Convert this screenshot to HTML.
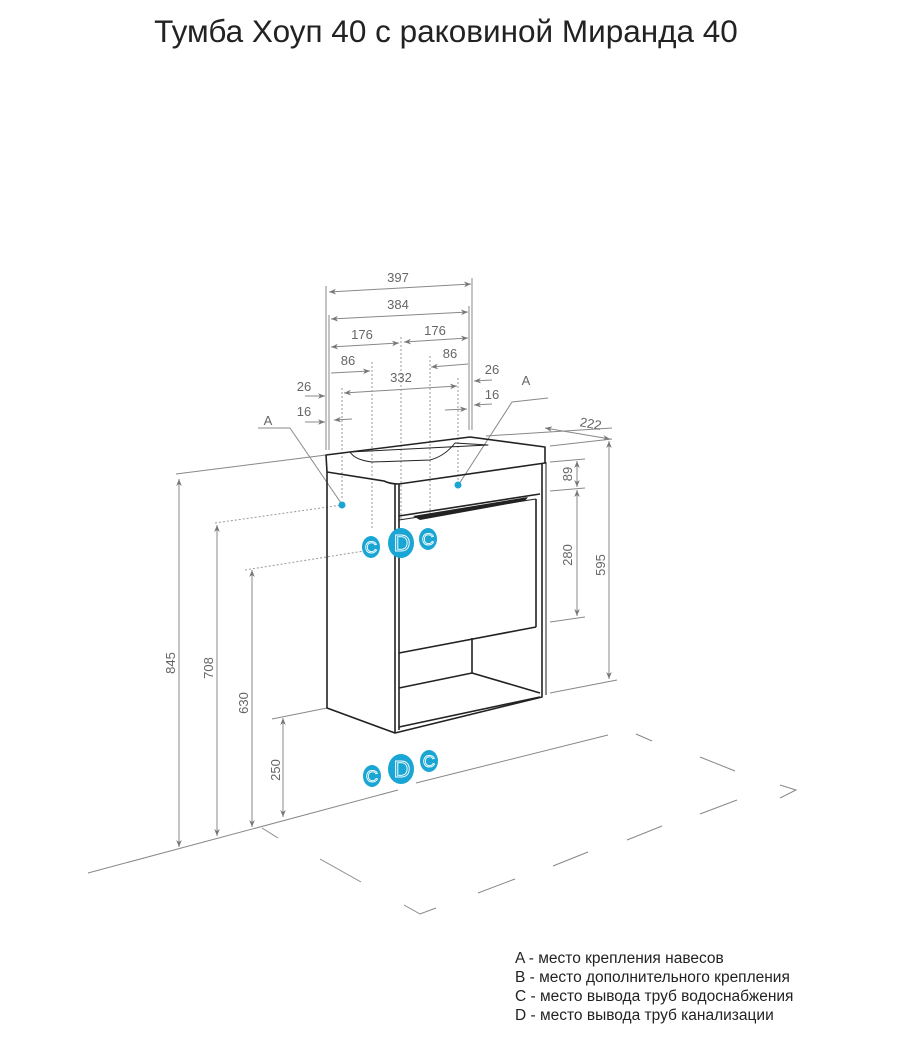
<!DOCTYPE html>
<html><head><meta charset="utf-8"><style>
body{margin:0;background:#fff;}
svg{display:block;font-family:"Liberation Sans",sans-serif;}
</style></head><body>
<svg width="900" height="1053" viewBox="0 0 900 1053" xmlns="http://www.w3.org/2000/svg">
<defs>
<marker id="a" viewBox="0 0 10 10" refX="10" refY="5" markerWidth="9" markerHeight="7" orient="auto-start-reverse" markerUnits="userSpaceOnUse"><path d="M0,1 L10,5 L0,9 L3,5Z" fill="#777"/></marker>
</defs>
<text x="446" y="42" font-size="31.5" text-anchor="middle" fill="#222">Тумба Хоуп 40 с раковиной Миранда 40</text>

<g stroke="#888" stroke-width="1" fill="none">
<line x1="326" y1="286" x2="326" y2="450"/><line x1="329" y1="315" x2="329" y2="450"/>
<line x1="472" y1="278" x2="472" y2="430"/><line x1="469" y1="306" x2="469" y2="430"/>
<line x1="329" y1="292" x2="471" y2="284" marker-start="url(#a)" marker-end="url(#a)"/>
<line x1="331" y1="319" x2="468" y2="312" marker-start="url(#a)" marker-end="url(#a)"/>
<line x1="331" y1="347" x2="399" y2="343" marker-start="url(#a)" marker-end="url(#a)"/>
<line x1="404" y1="342" x2="468" y2="338" marker-start="url(#a)" marker-end="url(#a)"/>
<line x1="331" y1="373" x2="370" y2="371" marker-end="url(#a)"/>
<line x1="431" y1="367" x2="468" y2="364" marker-start="url(#a)"/>
<line x1="344" y1="393" x2="457" y2="386" marker-start="url(#a)" marker-end="url(#a)"/>
<line x1="305" y1="396" x2="325" y2="396" marker-end="url(#a)"/>
<line x1="305" y1="422" x2="325" y2="422" marker-end="url(#a)"/>
<line x1="352" y1="419" x2="334" y2="420" marker-end="url(#a)"/>
<line x1="492" y1="380" x2="474" y2="381" marker-end="url(#a)"/>
<line x1="492" y1="404" x2="474" y2="405" marker-end="url(#a)"/>
<line x1="445" y1="410" x2="467" y2="409" marker-end="url(#a)"/>
<line x1="486" y1="436" x2="612" y2="428"/>
<line x1="545" y1="428" x2="610" y2="439" marker-start="url(#a)" marker-end="url(#a)"/>
<line x1="550" y1="446" x2="612" y2="439"/>
<line x1="550" y1="462" x2="585" y2="459"/>
<line x1="550" y1="491" x2="585" y2="488"/>
<line x1="550" y1="622" x2="585" y2="617"/>
<line x1="550" y1="693" x2="617" y2="680"/>
<line x1="577" y1="461" x2="577" y2="487" marker-start="url(#a)" marker-end="url(#a)"/>
<line x1="577" y1="490" x2="577" y2="616" marker-start="url(#a)" marker-end="url(#a)"/>
<line x1="609" y1="441" x2="609" y2="679" marker-start="url(#a)" marker-end="url(#a)"/>
<line x1="176" y1="474" x2="326" y2="455"/>
<line x1="272" y1="719" x2="327" y2="708"/>
<line x1="179" y1="479" x2="179" y2="847" marker-start="url(#a)" marker-end="url(#a)"/>
<line x1="217" y1="525" x2="217" y2="836" marker-start="url(#a)" marker-end="url(#a)"/>
<line x1="252" y1="570" x2="252" y2="827" marker-start="url(#a)" marker-end="url(#a)"/>
<line x1="283" y1="718" x2="283" y2="817" marker-start="url(#a)" marker-end="url(#a)"/>
<line x1="258" y1="428" x2="290" y2="428"/><line x1="290" y1="428" x2="341" y2="503"/>
<line x1="548" y1="398" x2="512" y2="402"/><line x1="512" y1="402" x2="459" y2="484"/>
<line x1="88" y1="873" x2="398" y2="790"/>
<line x1="416" y1="783" x2="608" y2="735"/>
<line x1="262" y1="828" x2="278" y2="838"/>
<line x1="636" y1="734" x2="652" y2="741"/>
<line x1="700" y1="757" x2="735" y2="771"/>
<polyline points="780,785 796,790 780,798"/>
<line x1="320" y1="859" x2="361" y2="882"/>
<polyline points="404,905 420,914 436,908"/>
<line x1="478" y1="893" x2="515" y2="879"/>
<line x1="553" y1="866" x2="588" y2="852"/>
<line x1="627" y1="840" x2="662" y2="826"/>
<line x1="700" y1="814" x2="737" y2="800"/>
</g>
<g stroke="#999" stroke-width="1" stroke-dasharray="2,2" fill="none">
<line x1="401" y1="337" x2="401" y2="520"/>
<line x1="372" y1="362" x2="372" y2="530"/>
<line x1="430" y1="356" x2="430" y2="520"/>
<line x1="342" y1="388" x2="342" y2="500"/>
<line x1="458" y1="378" x2="458" y2="480"/>
<line x1="215" y1="523" x2="342" y2="505"/>
<line x1="245" y1="570" x2="364" y2="551"/>
</g>
<g font-size="13" fill="#666" text-anchor="middle">
<text x="398" y="282">397</text><text x="398" y="309">384</text>
<text x="362" y="339">176</text><text x="435" y="335">176</text>
<text x="348" y="365">86</text><text x="450" y="358">86</text>
<text x="401" y="382">332</text>
<text x="304" y="391">26</text><text x="304" y="416">16</text>
<text x="492" y="374">26</text><text x="492" y="399">16</text>
<text x="268" y="425">A</text><text x="526" y="385">A</text>
<text x="590" y="428" transform="rotate(10 590 428)">222</text>
<text transform="translate(572 474) rotate(-90)">89</text>
<text transform="translate(572 555) rotate(-90)">280</text>
<text transform="translate(605 565) rotate(-90)">595</text>
<text transform="translate(175 663) rotate(-90)">845</text>
<text transform="translate(213 668) rotate(-90)">708</text>
<text transform="translate(248 703) rotate(-90)">630</text>
<text transform="translate(280 770) rotate(-90)">250</text>
</g>
<g stroke="#222" stroke-width="1.6" fill="none" stroke-linejoin="round">
<path d="M326,455 L470,437 L545,447 L545,463 L399,484 Q390,484 384,481 L327,472 Z"/>
<path d="M350,452 Q355,460 372,462 L430,460 Q445,456 455,443 L488,445 Z" stroke-width="1"/>
<path d="M327,472 L327,708 L395,733 L542,697 L542,463"/>
<line x1="395" y1="484" x2="395" y2="733"/>
<line x1="399" y1="484" x2="399" y2="730"/>
<line x1="546" y1="462" x2="546" y2="695" stroke-width="1"/>
<line x1="399" y1="516" x2="540" y2="494"/>
<line x1="399" y1="520" x2="536" y2="499" stroke-width="1"/>
<line x1="536" y1="499" x2="536" y2="627"/>
<line x1="399" y1="653" x2="536" y2="627"/>
<line x1="472" y1="638" x2="472" y2="673"/>
<line x1="399" y1="688" x2="472" y2="673"/>
<line x1="472" y1="673" x2="540" y2="693"/>
<line x1="399" y1="727" x2="540" y2="697"/>
</g>
<path d="M413,516 L528,497 L525,501 L420,520 Z" fill="#222"/>
<g fill="#1aa6d4">
<circle cx="342" cy="505" r="3.5"/><circle cx="458" cy="485" r="3.5"/>
<ellipse cx="371" cy="547" rx="9" ry="11"/><ellipse cx="401" cy="543" rx="13" ry="15"/><ellipse cx="428" cy="539" rx="9" ry="11"/>
<ellipse cx="372" cy="776" rx="9" ry="11"/><ellipse cx="401" cy="769" rx="13" ry="15"/><ellipse cx="429" cy="761" rx="9" ry="11"/>
</g>
<g fill="none" stroke="#fff" stroke-width="0.9" font-size="17" text-anchor="middle">
<text x="371" y="553">C</text><text x="402" y="551" font-size="23">D</text><text x="428" y="545">C</text>
<text x="372" y="782">C</text><text x="402" y="777" font-size="23">D</text><text x="429" y="767">C</text>
</g>
<g font-size="15.5" fill="#222">
<text x="515" y="963">A - место крепления навесов</text>
<text x="515" y="982">B - место дополнительного крепления</text>
<text x="515" y="1001">C - место вывода труб водоснабжения</text>
<text x="515" y="1020">D - место вывода труб канализации</text>
</g>
</svg>
</body></html>
